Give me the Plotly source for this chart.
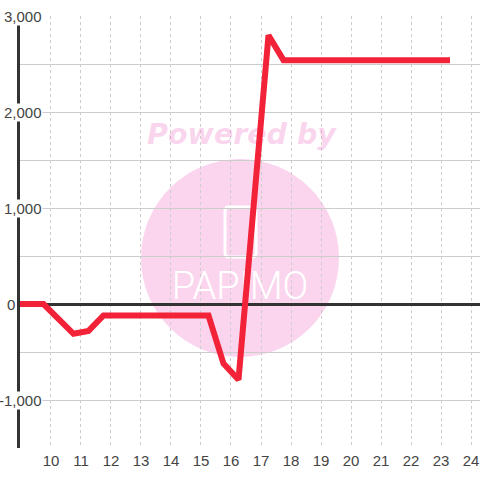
import plotly.graph_objects as go

x_vals = [8.87, 9.75, 10.75, 11.25, 11.75, 15.25, 15.75, 16.25, 17.25, 17.75, 23.3]
y_vals = [0, 0, -310, -280, -120, -120, -620, -790, 2800, 2540, 2540]
x_ticks = list(range(10, 25))
y_label_vals = [3000, 2000, 1000, 0, -1000]
y_labels = ["3,000", "2,000", "1,000", "0", "-1,000"]
y_label_right = [43, 43, 43, 16, 43]

W = H = 480
L, R, T, B = 20, 0, 16, 32
PW, PH = W - L - R, H - T - B
XMIN, XMAX = 8.967, 24.3
YMIN, YMAX = -1500, 3000


def px(p):
    return (p - L) / PW


def py(p):
    return 1 - (p - T) / PH


def dx(p):
    return XMIN + (p - L) / PW * (XMAX - XMIN)


def dy(p):
    return YMAX - (p - T) / PH * (YMAX - YMIN)


def rounded(x0, y0, x1, y1, r):
    pts = [
        ("M", x0 + r, y0), ("L", x1 - r, y0), ("Q", x1, y0, x1, y0 + r),
        ("L", x1, y1 - r), ("Q", x1, y1, x1 - r, y1), ("L", x0 + r, y1),
        ("Q", x0, y1, x0, y1 - r), ("L", x0, y0 + r), ("Q", x0, y0, x0 + r, y0),
    ]
    out = []
    for p in pts:
        coords = p[1:]
        s = " ".join(f"{px(coords[i]):.5f},{py(coords[i + 1]):.5f}" for i in range(0, len(coords), 2))
        out.append(f"{p[0]}{s}")
    return " ".join(out) + " Z"


PINK = "#fbd5ee"
RED = "#f22238"
TEXT = "#444444"
FONT = "Liberation Sans, Arial, sans-serif"

fig = go.Figure()

fig.add_trace(go.Scatter(
    x=[dx(241.5)], y=[dy(137)], mode="text", text=["<b><i>Powered by</i></b>"],
    textposition="middle center", hoverinfo="skip", showlegend=False, cliponaxis=False,
    textfont=dict(family="DejaVu Sans", size=28.5, color="rgba(240,110,195,0.3)"),
))
fig.add_trace(go.Scatter(
    x=[dx(240)], y=[dy(289)], mode="text", text=["PAPIMO"],
    textposition="middle center", hoverinfo="skip", showlegend=False, cliponaxis=False,
    textfont=dict(family="Roboto", size=38, weight=300, color="#ffffff"),
))

fig.add_trace(go.Scatter(
    x=x_vals, y=y_vals, mode="lines", showlegend=False, cliponaxis=False,
    line=dict(color=RED, width=6, shape="linear"),
))

shapes = [
    dict(type="circle", xref="paper", yref="paper", layer="below",
         x0=px(141), x1=px(339), y0=py(357), y1=py(159),
         fillcolor=PINK, line=dict(width=0)),
    dict(type="path", xref="paper", yref="paper", layer="below",
         path=rounded(225, 207, 256, 257, 4),
         fillcolor="rgba(0,0,0,0)", line=dict(color="#ffffff", width=3)),
]

annotations = [
    dict(x=0, xref="paper", y=v, yref="y", text=t, showarrow=False,
         xanchor="right", yanchor="middle", xshift=r - L, align="right",
         bgcolor="#ffffff" if v != 0 else "rgba(0,0,0,0)", borderpad=0,
         font=dict(family=FONT, size=15, color=TEXT))
    for v, t, r in zip(y_label_vals, y_labels, y_label_right)
]

fig.update_layout(
    width=W, height=H, autosize=False,
    margin=dict(l=L, r=R, t=T, b=B, pad=0),
    paper_bgcolor="#ffffff", plot_bgcolor="#ffffff",
    showlegend=False, shapes=shapes, annotations=annotations,
    xaxis=dict(range=[XMIN, XMAX], tickvals=x_ticks, ticktext=[str(t) for t in x_ticks],
               showgrid=True, gridcolor="#cccccc", gridwidth=1, griddash="3px,3px",
               zeroline=False, showline=False, ticks="", fixedrange=True, ticklabelstandoff=2,
               tickfont=dict(family=FONT, size=15, color=TEXT)),
    yaxis=dict(range=[YMIN, YMAX], dtick=500, tick0=0, showticklabels=False,
               showgrid=True, gridcolor="#cccccc", gridwidth=1,
               zeroline=True, zerolinecolor="#333333", zerolinewidth=3,
               showline=True, linecolor="#333333", linewidth=3, ticks="", fixedrange=True),
)

fig.write_html("out.html", config={"displayModeBar": False},
               post_script="document.body.style.margin='0';document.documentElement.style.overflow='hidden';")
